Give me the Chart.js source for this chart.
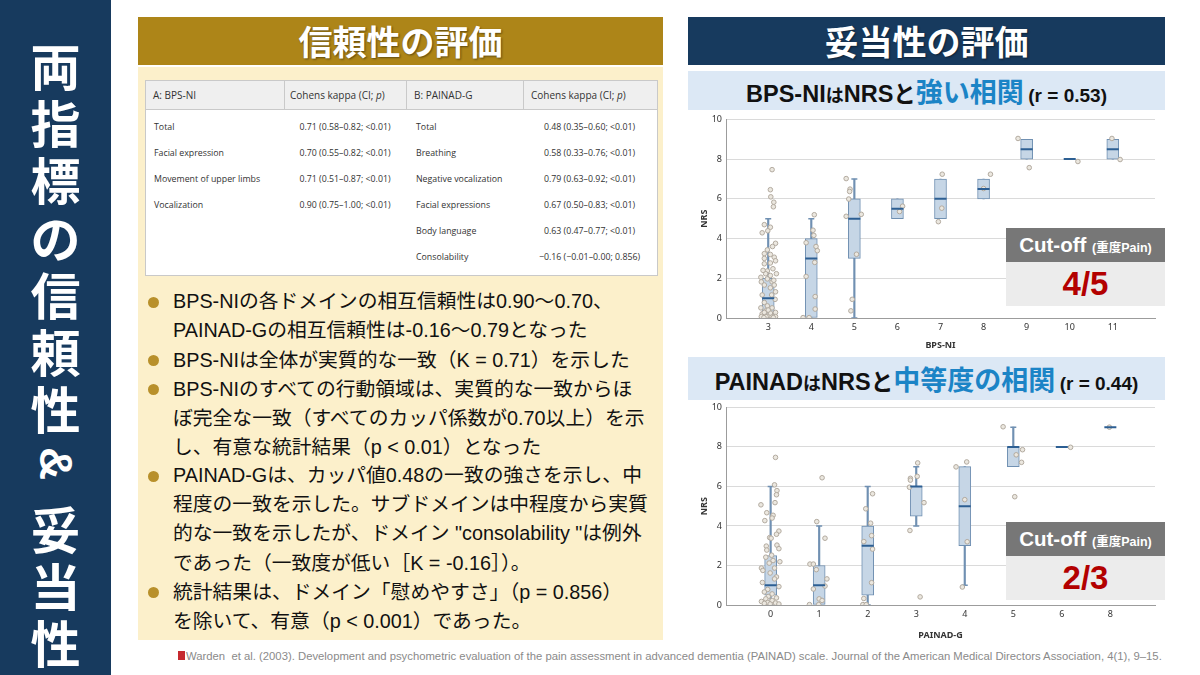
<!DOCTYPE html>
<html lang="ja">
<head>
<meta charset="utf-8">
<script src="https://cdn.jsdelivr.net/npm/chart.js@4.4.1/dist/chart.umd.min.js"></script>
<style>
  body { margin:0; width:1200px; height:675px; position:relative; overflow:hidden; background:#fff;
         font-family:"Liberation Sans","Noto Sans CJK JP",sans-serif; }
  .abs { position:absolute; }
  #side { left:0; top:0; width:111px; height:675px; background:#173a5e; }
  .sc { position:absolute; left:0; width:111px; text-align:center; color:#fff; font-weight:bold;
        font-family:"Noto Sans CJK JP",sans-serif; font-size:50px; line-height:57px; height:57px; }
  .hdr { color:#fff; font-family:"Noto Sans CJK JP",sans-serif; font-weight:bold; font-size:34px;
         text-align:center; line-height:48px; text-shadow:1px 1px 2px rgba(0,0,0,0.45); }
  #relHdr { left:138px; top:17px; width:525px; height:48px; background:#ad8518; }
  #valHdr { left:688px; top:17px; width:477px; height:48px; background:#173a5e; }
  #panel { left:138px; top:67px; width:525px; height:573px; background:#fcf0cb; }
  #tbl { left:145px; top:80px; width:511px; height:194px; background:#fff; border:1px solid #c9c9c9; }
  #tblHead { left:0; top:0; width:511px; height:28px; background:#efefef; border-bottom:1px solid #c9c9c9; }
  .vl { position:absolute; top:0; width:1px; height:28px; background:#c9c9c9; }
  .tc { position:absolute; font-family:"Open Sans",sans-serif; font-size:8.8px; color:#333; white-space:nowrap; line-height:14px; }
  .th { font-size:10px; }
  .tv { text-align:center; }
  .bl { position:absolute; left:35px; font-size:19.8px; color:#111; white-space:nowrap; line-height:29.2px; }
  .dot { position:absolute; left:10px; width:11px; height:11px; border-radius:50%; background:#b8902b; }
  .sub { background:#dce8f5; text-align:center; color:#111; font-weight:bold; white-space:nowrap; }
  .sub .n { font-size:23.5px; }
  .sub .ha { font-size:18px; font-family:"Noto Sans CJK JP",sans-serif; }
  .sub .to { font-size:22.5px; font-family:"Noto Sans CJK JP",sans-serif; }
  .sub .bl2 { font-size:27px; color:#1b84c6; font-family:"Noto Sans CJK JP",sans-serif; }
  .sub .r { font-size:19px; }
  .cutT { background:#777; color:#fff; font-weight:bold; text-align:center; font-size:20.5px; line-height:34px; }
  .cutT small { font-size:12.5px; font-family:"Liberation Sans","Noto Sans CJK JP",sans-serif; }
  .cutV { background:#ececec; color:#b30000; font-weight:bold; text-align:center;
          font-family:"Liberation Sans Narrow","Liberation Sans",sans-serif; font-size:33px; line-height:44px; }
  #foot { left:186px; top:650px; font-size:11.3px; color:#8a8a8a; white-space:nowrap; }
  #footIcon { left:178px; top:651px; width:7px; height:9px; background:#c62a2f; }
</style>
</head>
<body>

<div id="side" class="abs">
  <div class="sc" style="top:36px">両</div>
  <div class="sc" style="top:93px">指</div>
  <div class="sc" style="top:150px">標</div>
  <div class="sc" style="top:208px">の</div>
  <div class="sc" style="top:265px">信</div>
  <div class="sc" style="top:322px">頼</div>
  <div class="sc" style="top:379px">性</div>
  <div class="sc" style="top:435px;transform:rotate(90deg);font-family:'Liberation Sans',sans-serif;font-size:46px">&amp;</div>
  <div class="sc" style="top:499px">妥</div>
  <div class="sc" style="top:556px">当</div>
  <div class="sc" style="top:613px">性</div>
</div>

<div id="relHdr" class="abs hdr">信頼性の評価</div>
<div id="panel" class="abs">
  <div class="dot" style="top:230px"></div>
  <div class="bl" style="top:220px">BPS-NIの各ドメインの相互信頼性は0.90〜0.70、<br>PAINAD-Gの相互信頼性は-0.16〜0.79となった</div>
  <div class="dot" style="top:288px"></div>
  <div class="bl" style="top:278.5px">BPS-NIは全体が実質的な一致（K = 0.71）を示した</div>
  <div class="dot" style="top:317px"></div>
  <div class="bl" style="top:307.5px">BPS-NIのすべての行動領域は、実質的な一致からほ<br>ぼ完全な一致（すべてのカッパ係数が0.70以上）を示<br>し、有意な統計結果（p &lt; 0.01）となった</div>
  <div class="dot" style="top:404px"></div>
  <div class="bl" style="top:394px">PAINAD-Gは、カッパ値0.48の一致の強さを示し、中<br>程度の一致を示した。サブドメインは中程度から実質<br>的な一致を示したが、ドメイン "consolability "は例外<br>であった（一致度が低い［K = -0.16］）。</div>
  <div class="dot" style="top:520px"></div>
  <div class="bl" style="top:510.5px">統計結果は、ドメイン「慰めやすさ」（p = 0.856）<br>を除いて、有意（p &lt; 0.001）であった。</div>
</div>

<div id="tbl" class="abs">
  <div id="tblHead" class="abs"></div>
  <div class="vl" style="left:138px"></div>
  <div class="vl" style="left:260px"></div>
  <div class="vl" style="left:377px"></div>
  <div class="tc th" style="left:7px;top:7px">A: BPS-NI</div>
  <div class="tc th" style="left:144px;top:7px">Cohens kappa (CI; <i>p</i>)</div>
  <div class="tc th" style="left:268px;top:7px">B: PAINAD-G</div>
  <div class="tc th" style="left:385px;top:7px">Cohens kappa (CI; <i>p</i>)</div>

  <div class="tc" style="left:8px;top:39px">Total</div>
  <div class="tc" style="left:8px;top:65px">Facial expression</div>
  <div class="tc" style="left:8px;top:91px">Movement of upper limbs</div>
  <div class="tc" style="left:8px;top:117px">Vocalization</div>
  <div class="tc tv" style="left:138px;width:122px;top:39px">0.71 (0.58–0.82; &lt;0.01)</div>
  <div class="tc tv" style="left:138px;width:122px;top:65px">0.70 (0.55–0.82; &lt;0.01)</div>
  <div class="tc tv" style="left:138px;width:122px;top:91px">0.71 (0.51–0.87; &lt;0.01)</div>
  <div class="tc tv" style="left:138px;width:122px;top:117px">0.90 (0.75–1.00; &lt;0.01)</div>

  <div class="tc" style="left:270px;top:39px">Total</div>
  <div class="tc" style="left:270px;top:65px">Breathing</div>
  <div class="tc" style="left:270px;top:91px">Negative vocalization</div>
  <div class="tc" style="left:270px;top:117px">Facial expressions</div>
  <div class="tc" style="left:270px;top:143px">Body language</div>
  <div class="tc" style="left:270px;top:169px">Consolability</div>
  <div class="tc tv" style="left:377px;width:133px;top:39px">0.48 (0.35–0.60; &lt;0.01)</div>
  <div class="tc tv" style="left:377px;width:133px;top:65px">0.58 (0.33–0.76; &lt;0.01)</div>
  <div class="tc tv" style="left:377px;width:133px;top:91px">0.79 (0.63–0.92; &lt;0.01)</div>
  <div class="tc tv" style="left:377px;width:133px;top:117px">0.67 (0.50–0.83; &lt;0.01)</div>
  <div class="tc tv" style="left:377px;width:133px;top:143px">0.63 (0.47–0.77; &lt;0.01)</div>
  <div class="tc tv" style="left:377px;width:133px;top:169px">−0.16 (−0.01–0.00; 0.856)</div>
</div>

<div id="valHdr" class="abs hdr">妥当性の評価</div>
<div class="abs sub" style="left:688px;top:71px;width:477px;height:39px;line-height:39px">
  <span class="n">BPS-NI</span><span class="ha">は</span><span class="n">NRS</span><span class="to">と</span><span class="bl2">強い相関</span> <span class="r">(r = 0.53)</span>
</div>
<div class="abs sub" style="left:688px;top:357px;width:477px;height:43px;line-height:43px">
  <span class="n">PAINAD</span><span class="ha">は</span><span class="n">NRS</span><span class="to">と</span><span class="bl2">中等度の相関</span> <span class="r">(r = 0.44)</span>
</div>

<div class="abs" style="left:697px;top:110px;width:468px;height:244px"><canvas id="c1" width="468" height="244"></canvas></div>
<div class="abs" style="left:697px;top:398px;width:468px;height:246px"><canvas id="c2" width="468" height="246"></canvas></div>

<div class="abs cutT" style="left:1006px;top:228px;width:159px;height:34px">Cut-off <small>(重度Pain)</small></div>
<div class="abs cutV" style="left:1006px;top:262px;width:159px;height:44px">4/5</div>
<div class="abs cutT" style="left:1006px;top:522px;width:159px;height:34px">Cut-off <small>(重度Pain)</small></div>
<div class="abs cutV" style="left:1006px;top:556px;width:159px;height:44px">2/3</div>

<div id="footIcon" class="abs"></div>
<div id="foot" class="abs">Warden &nbsp;et al. (2003). Development and psychometric evaluation of the pain assessment in advanced dementia (PAINAD) scale. Journal of the American Medical Directors Association, 4(1), 9–15.</div>

<script>
// BPS-NI vs NRS
const bpsCats = ['3', '4', '5', '6', '7', '8', '9', '10', '11'];
const bpsMin = [0, 0, 0, 5, 5, 6, 8, 8, 8];
const bpsQ1  = [0, 0, 3, 5, 5, 6, 8, 8, 8];
const bpsMed = [1, 3, 5, 5.5, 6, 6.5, 8.5, 8, 8.5];
const bpsQ3  = [2, 4, 6, 6, 7, 7, 9, 8, 9];
const bpsMax = [5, 5, 7, 6, 7, 7, 9, 8, 9];
// jittered raw scores: [category index, x jitter, NRS]
const bpsPoints = [
  [0, 0.09, 7.47], [0, 0.05, 6.46], [0, 0.06, 6.1], [0, 0.13, 5.83], [0, 0.12, 5.6],
  [0, -0.09, 4.7], [0, 0.05, 4.57], [0, -0.14, 4.29], [0, -0.01, 4.39], [0, 0.17, 3.76],
  [0, 0.10, 3.6], [0, -0.02, 3.43], [0, 0.05, 3.2], [0, -0.09, 3.24], [0, 0.14, 3.06],
  [0, -0.09, 3.0], [0, 0.17, 2.88], [0, 0.05, 2.77], [0, -0.09, 2.73], [0, 0.11, 2.48],
  [0, -0.02, 2.37], [0, -0.06, 2.23], [0, 0.19, 2.23], [0, 0.05, 2.14], [0, -0.17, 2.05],
  [0, -0.02, 1.97], [0, -0.16, 1.82], [0, 0.09, 1.82], [0, -0.09, 1.66], [0, 0.14, 1.66],
  [0, 0.05, 1.52], [0, 0.17, 1.32], [0, -0.14, 1.16], [0, 0.08, 1.16], [0, 0.16, 0.94],
  [0, -0.09, 0.78], [0, -0.02, 0.61], [0, -0.17, 0.51], [0, 0.09, 0.51], [0, -0.06, 0.35],
  [0, 0.17, 0.28], [0, -0.14, 0.21], [0, 0.02, 0.12], [0, -0.16, 0.07], [0, -0.05, 0.07],
  [0, 0.09, 0.07], [0, 0.17, 0.07], [0, -0.09, 0.28], [0, 0.05, 0.25], [0, -0.10, 0.02],
  [0, 0.12, 0.02], [0, 0.0, 0.4], [0, 0.13, 1.9], [0, -0.12, 2.4],
  [1, 0.07, 5.2], [1, 0.04, 4.42], [1, 0.06, 4.16], [1, -0.12, 3.79], [1, 0.11, 3.6],
  [1, 0.14, 3.39], [1, 0.08, 2.8], [1, -0.12, 2.09], [1, 0.09, 1.08], [1, 0.09, 0.45],
  [1, -0.19, 0.02], [1, -0.05, 0.02],
  [2, -0.19, 7.02], [2, -0.10, 6.49], [2, -0.11, 6.37], [2, -0.13, 5.99], [2, -0.19, 5.12],
  [2, 0.16, 5.22], [2, 0.05, 3.21], [2, -0.05, 0.94], [2, -0.08, 0.36],
  [3, 0.05, 5.36], [3, 0.12, 5.63],
  [4, 0.04, 7.24], [4, 0.03, 5.53], [4, -0.05, 4.85],
  [5, 0.0, 6.52], [5, 0.16, 7.24],
  [6, -0.2, 9.04], [6, 0.06, 7.57],
  [7, 0.19, 7.88],
  [8, -0.02, 9.04], [8, 0.17, 7.98]
];

// PAINAD-G vs NRS
const painCats = ['0', '1', '2', '3', '4', '5', '6', '8'];
const painMin = [0, 0, 0, 4, 1, 7, 8, 9];
const painQ1  = [0.5, 0, 0.5, 4.5, 3, 7, 8, 9];
const painMed = [1, 1, 3, 6, 5, 8, 8, 9];
const painQ3  = [2.5, 2, 4, 6, 7, 8, 8, 9];
const painMax = [6, 4, 6, 7, 7, 9, 8, 9];
const painPoints = [
  [0, 0.10, 7.47], [0, 0.08, 6.08], [0, 0.13, 5.79], [0, 0.12, 5.58], [0, -0.20, 5.07],
  [0, 0.09, 5.18], [0, -0.08, 4.67], [0, 0.05, 4.54], [0, -0.12, 4.27], [0, 0.03, 4.4],
  [0, 0.17, 3.74], [0, 0.12, 3.58], [0, -0.02, 3.41], [0, 0.01, 3.38], [0, -0.09, 2.98],
  [0, 0.13, 3.03], [0, 0.17, 2.85], [0, -0.08, 2.78], [0, 0.02, 2.52], [0, -0.10, 2.42],
  [0, 0.05, 2.25], [0, 0.19, 2.19], [0, -0.03, 2.12], [0, -0.19, 1.87], [0, -0.16, 1.75],
  [0, 0.08, 1.87], [0, -0.01, 1.62], [0, 0.12, 1.42], [0, 0.08, 1.32], [0, -0.17, 1.14],
  [0, 0.17, 0.93], [0, -0.06, 0.79], [0, -0.13, 0.66], [0, 0.03, 0.56], [0, -0.05, 0.43],
  [0, 0.12, 0.36], [0, -0.10, 0.31], [0, 0.03, 0.23], [0, -0.19, 0.18], [0, -0.06, 0.13],
  [0, 0.10, 0.1], [0, -0.13, 0.08], [0, 0.17, 0.05], [0, -0.01, 0.05],
  [1, 0.06, 6.44], [1, -0.05, 4.22], [1, 0.12, 3.38], [1, -0.19, 2.07], [1, -0.12, 2.07],
  [1, -0.06, 1.79], [1, 0.16, 1.32], [1, 0.12, 0.96], [1, -0.12, 0.81], [1, 0.0, 0.31],
  [1, 0.06, 0.23], [1, -0.20, 0.02], [1, -0.01, 0.02],
  [2, 0.06, 4.14], [2, -0.04, 4.87], [2, 0.10, 5.63], [2, 0.08, 3.51], [2, 0.10, 2.83],
  [2, -0.08, 3.21], [2, 0.08, 1.13], [2, -0.08, 0.33], [2, -0.10, 0.02], [2, -0.03, 0.02],
  [3, 0.03, 7.19], [3, 0.02, 6.51], [3, -0.12, 6.41], [3, -0.12, 6.32], [3, -0.14, 5.96],
  [3, 0.16, 5.18], [3, -0.13, 3.77], [3, 0.08, 0.41],
  [4, -0.18, 6.99], [4, 0.04, 7.24], [4, 0.0, 5.33], [4, 0.05, 3.2], [4, -0.05, 0.91],
  [5, -0.21, 9.02], [5, 0.06, 7.6], [5, 0.19, 7.86], [5, 0.17, 7.22], [5, 0.03, 5.48],
  [6, 0.18, 7.98],
  [7, -0.02, 9.0]
];

const yTicks = [0, 2, 4, 6, 8, 10];

const boxFill = '#c6d6e6';
const boxLine = '#7090b2';
const medLine = '#2d5f93';
const tickFont = { family: 'Noto Sans', size: 9 };
const titleFont = { family: 'Noto Sans', size: 9, weight: 'bold' };

function boxChart(id, cats, mins, q1s, meds, q3s, maxs, pts, xTitle, xPad, xAxisH, topPad) {
  const caps = [];
  cats.forEach((c, i) => {
    if (maxs[i] > q3s[i]) caps.push({ x: i, y: maxs[i] });
    if (mins[i] < q1s[i]) caps.push({ x: i, y: mins[i] });
  });

  new Chart(document.getElementById(id), {
    type: 'bar',
    data: {
      datasets: [
        {
          // whiskers
          data: cats.map((c, i) => ({ x: i, y: [mins[i], maxs[i]] })),
          backgroundColor: boxLine,
          barThickness: 1.5,
          grouped: false,
          order: 5
        },
        {
          // boxes
          data: cats.map((c, i) => ({ x: i, y: [q1s[i], q3s[i]] })),
          backgroundColor: boxFill,
          borderColor: boxLine,
          borderWidth: 1,
          borderSkipped: false,
          barThickness: 12,
          grouped: false,
          order: 4
        },
        {
          type: 'scatter',
          data: caps,
          pointStyle: 'line',
          radius: 3,
          borderWidth: 1.5,
          borderColor: boxLine,
          order: 3
        },
        {
          type: 'scatter',
          data: pts.map(p => ({ x: p[0] + p[1], y: p[2] })),
          pointStyle: 'circle',
          radius: 2.3,
          backgroundColor: '#ebe7df',
          borderColor: '#b2aa9f',
          borderWidth: 1,
          order: 2
        },
        {
          type: 'scatter',
          data: cats.map((c, i) => ({ x: i, y: meds[i] })),
          pointStyle: 'line',
          radius: 6,
          borderWidth: 2,
          borderColor: medLine,
          order: 1
        }
      ]
    },
    options: {
      responsive: false,
      animation: false,
      events: [],
      layout: { padding: { top: topPad, right: 10, left: 0, bottom: 0 } },
      plugins: { legend: { display: false }, tooltip: { enabled: false } },
      scales: {
        x: {
          type: 'linear',
          min: -xPad,
          max: cats.length - 1 + xPad,
          offset: false,
          afterBuildTicks: s => { s.ticks = cats.map((c, i) => ({ value: i })); },
          afterFit: s => { s.height = xAxisH; },
          ticks: { callback: v => cats[v], font: tickFont, color: '#333', padding: 4, maxRotation: 0, autoSkip: false },
          grid: { display: false, offset: false, drawTicks: false },
          border: { color: '#9c9c9c' },
          title: { display: true, text: xTitle, font: titleFont, color: '#333', padding: { top: 2, bottom: 3 } }
        },
        y: {
          min: 0,
          max: 10,
          afterBuildTicks: s => { s.ticks = yTicks.map(v => ({ value: v })); },
          afterFit: s => { s.width = 29; },
          ticks: { font: tickFont, color: '#333', padding: 4 },
          grid: { color: '#dadada', drawTicks: false },
          border: { color: '#9c9c9c' },
          title: { display: true, text: 'NRS', font: titleFont, color: '#333', padding: { top: 2, bottom: 2 } }
        }
      }
    }
  });
}

boxChart('c1', bpsCats, bpsMin, bpsQ1, bpsMed, bpsQ3, bpsMax, bpsPoints, 'BPS-NI', 0.98, 36, 7);
boxChart('c2', painCats, painMin, painQ1, painMed, painQ3, painMax, painPoints, 'PAINAD-G', 0.92, 39, 6);
</script>
</body>
</html>
